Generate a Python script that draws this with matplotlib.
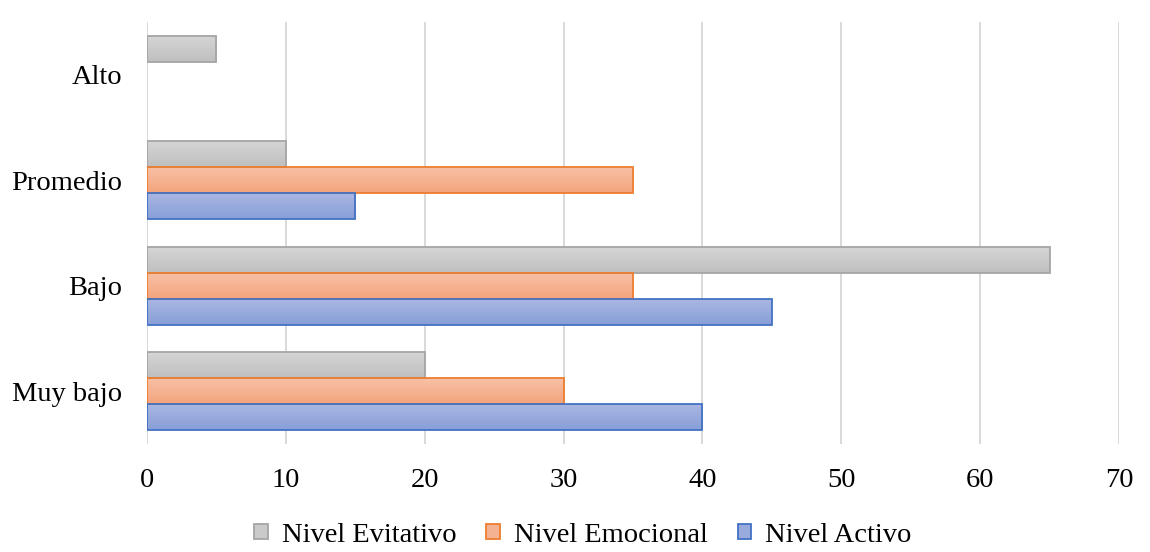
import matplotlib
matplotlib.use("Agg")
import matplotlib.pyplot as plt
import numpy as np
from matplotlib.patches import Patch
from matplotlib.colors import LinearSegmentedColormap

categories = ["Muy bajo", "Bajo", "Promedio", "Alto"]
series_names = ["Nivel Evitativo", "Nivel Emocional", "Nivel Activo"]
evitativo = [20, 65, 10, 5]
emocional = [30, 35, 35, 0]
activo = [40, 45, 15, 0]
xticks = [0, 10, 20, 30, 40, 50, 60, 70]

series_values = [evitativo, emocional, activo]
grad_top = ["#d6d6d6", "#f8c1a8", "#aab8e3"]
grad_bot = ["#bfbfbf", "#f3a47c", "#889ed7"]
edges = ["#a5a5a5", "#ed7d31", "#4472c4"]
mids = ["#cacaca", "#f5b292", "#99abdd"]

plt.rcParams["font.family"] = ["Liberation Serif", "DejaVu Serif"]

fig = plt.figure(figsize=(11.5, 5.52), dpi=100)
ax = fig.add_axes([147/1150, 1-444/552, (1119-147)/1150, (444-22)/552])

h = 0.2465
offsets = [h, 0, -h]
y = np.arange(len(categories))

for s, vals in enumerate(series_values):
    cmap = LinearSegmentedColormap.from_list("g%d" % s, [grad_bot[s], grad_top[s]])
    grad = np.linspace(0, 1, 64).reshape(-1, 1)
    for i, v in enumerate(vals):
        if v <= 0:
            continue
        yc = y[i] + offsets[s]
        bars = ax.barh([yc], [v], height=h, facecolor="none", edgecolor=edges[s],
                       linewidth=1.3, zorder=3)
        rect = bars.patches[0]
        im = ax.imshow(grad, extent=[0, v, yc - h/2, yc + h/2], origin="lower",
                       cmap=cmap, aspect="auto", zorder=2, interpolation="bilinear")
        im.set_clip_path(rect)

ax.set_xlim(0, 70)
ax.set_ylim(-0.5, len(categories) - 0.5)
ax.set_xticks(xticks)
ax.set_xticklabels([str(t) for t in xticks])
ax.set_yticks(y)
ax.set_yticklabels(categories)
ax.tick_params(axis="both", length=0, labelsize=20.5, colors="black")
ax.tick_params(axis="y", pad=18)
ax.tick_params(axis="x", pad=17)
ax.grid(axis="x", color="#d9d9d9", linewidth=1.4, zorder=0)
ax.set_axisbelow(True)
for sp in ax.spines.values():
    sp.set_visible(False)

handles = [Patch(facecolor=mids[s], edgecolor=edges[s], linewidth=1.3, label=series_names[s])
           for s in range(3)]
fig.legend(handles=handles, loc="center", bbox_to_anchor=(0.507, 1-535/552), ncol=3,
           frameon=False, fontsize=20.5, handlelength=0.47, handleheight=0.47,
           handletextpad=0.5, columnspacing=1.05, borderaxespad=0)

fig.savefig("out.png", dpi=100)
